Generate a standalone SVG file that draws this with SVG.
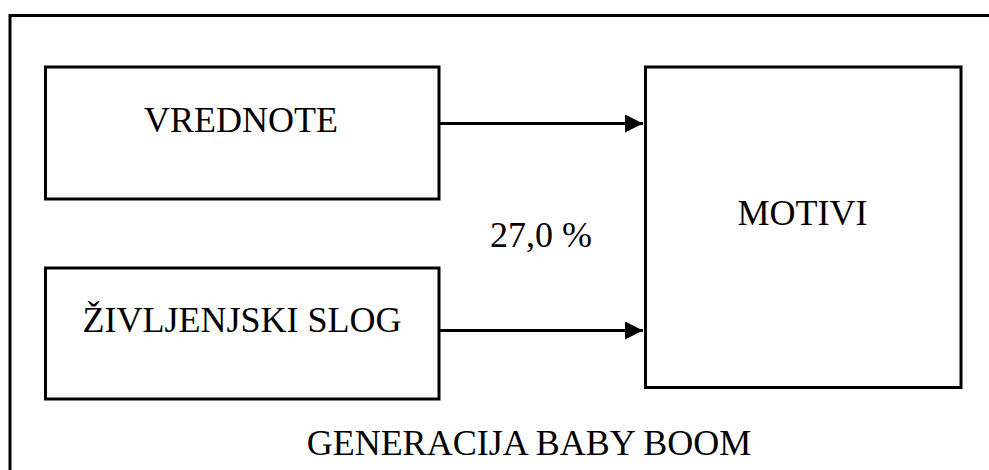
<svg xmlns="http://www.w3.org/2000/svg" width="989" height="470" viewBox="0 0 989 470">
  <style>
    .box { fill: #ffffff; stroke: #000000; stroke-width: 3; }
    .frame { fill: none; stroke: #000000; stroke-width: 3; }
    .lbl { font-family: "Liberation Serif", "Times New Roman", serif; font-size: 36px; fill: #000000; text-anchor: middle; }
    .conn { stroke: #000000; stroke-width: 3; fill: none; marker-end: url(#arrow); }
  </style>
  <defs>
    <marker id="arrow" markerUnits="userSpaceOnUse" markerWidth="20" markerHeight="20" refX="18" refY="9" orient="auto">
      <path d="M0,0 L18,9 L0,18 Z" fill="#000000"/>
    </marker>
  </defs>
  <rect width="989" height="470" fill="#ffffff"/>

  <!-- outer frame, runs past the right and bottom edges -->
  <rect class="frame" x="10" y="15.5" width="1000" height="480"/>

  <g id="vrednote">
    <rect class="box" x="45.5" y="67" width="393.5" height="132"/>
    <text class="lbl" x="241" y="131.5">VREDNOTE</text>
  </g>

  <g id="zivljenjski-slog">
    <rect class="box" x="45.5" y="268" width="393.5" height="131"/>
    <text class="lbl" x="242" y="331.5">ŽIVLJENJSKI SLOG</text>
  </g>

  <g id="motivi">
    <rect class="box" x="645.5" y="67" width="315.5" height="320.5"/>
    <text class="lbl" x="802.5" y="225">MOTIVI</text>
  </g>

  <g id="connectors">
    <line class="conn" x1="440" y1="123.5" x2="643" y2="123.5"/>
    <line class="conn" x1="440" y1="330.5" x2="643" y2="330.5"/>
  </g>

  <g id="labels">
    <text class="lbl" x="541" y="246.5">27,0 %</text>
    <text class="lbl" x="529" y="455">GENERACIJA BABY BOOM</text>
  </g>
</svg>
